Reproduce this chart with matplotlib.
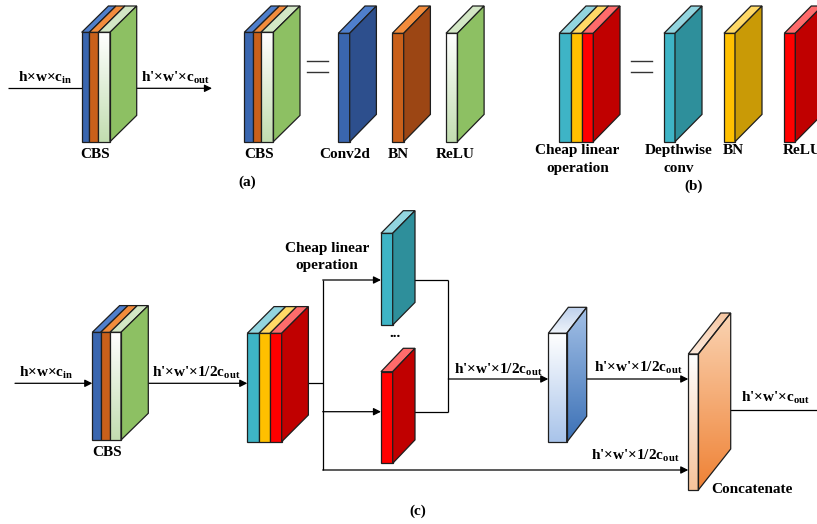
import numpy as np
import matplotlib
matplotlib.use("Agg")
from matplotlib import pyplot as plt
from matplotlib.patches import Polygon
from matplotlib.colors import to_rgb

plt.rcParams["font.family"] = ["Liberation Serif", "DejaVu Serif"]
plt.rcParams["font.weight"] = "bold"
plt.rcParams["mathtext.fontset"] = "custom"
plt.rcParams["mathtext.rm"] = "Liberation Serif:bold"
plt.rcParams["mathtext.it"] = "Liberation Serif:bold"
plt.rcParams["mathtext.bf"] = "Liberation Serif:bold"

FS = 11
EDGE = "#1e1e1e"
LW = 0.9

# layer -> (front, top, side); a tuple means a top-to-bottom gradient
LAYER_COLORS = {
    "conv": ("#3A66AF", "#4F7FCC", "#2D4F8D"),
    "bn": ("#C9601A", "#F28C3C", "#9C4614"),
    "relu": (("#FFFFFF", "#C2DDB0"), "#D3E7C5", "#8DC063"),
    "dw": ("#3EB4C6", "#92D5DF", "#2E8F9B"),
    "bn2": ("#FFC000", "#FFD966", "#C99A06"),
    "relu2": ("#FF0000", "#FF6B6B", "#C00000"),
    "ghost": (("#FFFFFF", "#A9C4EA"), ("#BDD0EC", "#EEF3FA"), ("#A3C0E6", "#3C71B6")),
    "concat": (("#FFFFFF", "#F7C39A"), ("#F6C6A2", "#FDE9DA"), ("#FAD3B2", "#EF8235")),
}

cbs_layers = ["conv", "bn", "relu"]
cheap_layers = ["dw", "bn2", "relu2"]
part_a_labels = ["CBS", "Conv2d", "BN", "ReLU"]
part_b_labels = [["Cheap linear", "operation"], ["Depthwise", "conv"], ["BN"], ["ReLU"]]
shape_in = r"h×w×$\mathrm{c}_{\mathrm{in}}$"
shape_out = r"h'×w'×$\mathrm{c}_{\mathrm{out}}$"
shape_half = r"h'×w'×1/2$\mathrm{c}_{\mathrm{out}}$"
captions = ["(a)", "(b)", "(c)"]


def fill(ax, pts, color, z):
    pts = np.asarray(pts, dtype=float)
    if isinstance(color, tuple):
        c0, c1 = np.array(to_rgb(color[0])), np.array(to_rgb(color[1]))
        t = np.linspace(0, 1, 64)[:, None, None]
        img = c0 + (c1 - c0) * t
        xs, ys = pts[:, 0], pts[:, 1]
        im = ax.imshow(img, extent=(xs.min(), xs.max(), ys.max(), ys.min()),
                       origin="upper", aspect="auto", zorder=z, interpolation="bilinear")
        im.set_clip_path(Polygon(pts, closed=True, transform=ax.transData))
        ax.add_patch(Polygon(pts, closed=True, facecolor="none", edgecolor=EDGE, lw=LW, zorder=z + 0.1))
    else:
        ax.add_patch(Polygon(pts, closed=True, facecolor=color, edgecolor=EDGE, lw=LW, zorder=z))


def slab(ax, x, top, widths, h, dx, dy, layers, z=3):
    xi = x
    for w, name in zip(widths, layers):
        front, topc, _ = LAYER_COLORS[name]
        fill(ax, [(xi, top), (xi + w, top), (xi + w, top + h), (xi, top + h)], front, z)
        fill(ax, [(xi, top), (xi + w, top), (xi + w + dx, top - dy), (xi + dx, top - dy)], topc, z)
        xi += w
    side = LAYER_COLORS[layers[-1]][2]
    fill(ax, [(xi, top), (xi + dx, top - dy), (xi + dx, top - dy + h), (xi, top + h)], side, z)


def line(ax, x0, y0, x1, y1, head=False):
    if head:
        ax.annotate("", xy=(x1, y1), xytext=(x0, y0), zorder=2,
                    arrowprops=dict(arrowstyle="-|>", color="black", lw=LW,
                                    mutation_scale=11, shrinkA=0, shrinkB=0))
    else:
        ax.plot([x0, x1], [y0, y1], color="black", lw=LW, zorder=2, solid_capstyle="butt")


def label(ax, x, y, s):
    ax.text(x, y, s, ha="center", va="baseline", fontsize=FS, fontweight="bold", zorder=6)


def equals(ax, x0, x1):
    for y in (61, 71.7):
        ax.plot([x0, x1], [y, y], color="#333333", lw=1.0, zorder=2)


fig = plt.figure(figsize=(8.17, 5.24), dpi=100)
ax = fig.add_axes([0, 0, 1, 1])
ax.set_axis_off()

# ---------------- (a) ----------------
line(ax, 8, 88.3, 90, 88.3)
line(ax, 125, 88.3, 212, 88.3, head=True)
label(ax, 45, 81.7, shape_in)
label(ax, 175, 81.7, shape_out)
slab(ax, 81.7, 32.3, [7.6, 9.0, 11.7], 109.4, 26.7, 26.3, cbs_layers)
label(ax, 95, 158.3, part_a_labels[0])

slab(ax, 244.3, 32.3, [8.4, 8.3, 12.3], 109.4, 26.7, 26.3, cbs_layers)
equals(ax, 307.3, 328.3)
a_x = [338.3, 392.3, 446.0]
for xi, name in zip(a_x, cbs_layers):
    slab(ax, xi, 33.3, [11.4], 108.4, 26.7, 27.3, [name])
for xc, s in zip([259.3, 345, 398, 455], part_a_labels):
    label(ax, xc, 158.3, s)
label(ax, 246.7, 186, captions[0])

# ---------------- (b) ----------------
slab(ax, 559.3, 33.3, [11.4, 11.0, 11.6], 108.4, 26.7, 27.3, cheap_layers)
equals(ax, 631, 651.7)
b_x = [664.0, 724.0, 784.3]
for xi, name in zip(b_x, cheap_layers):
    slab(ax, xi, 33.3, [11.0], 108.4, 27.0, 27.3, [name])
# the last "ReLU" runs off the right edge, as in the source figure
for xc, lines in zip([577.3, 678.3, 733, 802], part_b_labels):
    for k, s in enumerate(lines):
        label(ax, xc, 154 + 17.7 * k, s)
label(ax, 693.3, 189.5, captions[1])

# ---------------- (c) ----------------
line(ax, 15, 383.3, 92.3, 383.3, head=True)
label(ax, 46.7, 376.7, shape_in)
slab(ax, 92.3, 332.3, [8.4, 9.3, 11.0], 107.7, 27.3, 26.7, cbs_layers)
label(ax, 106.7, 456, part_a_labels[0])

line(ax, 130, 383.3, 247.3, 383.3, head=True)
label(ax, 196.7, 376.7, shape_half)
slab(ax, 247.3, 333.3, [11.7, 11.0, 11.7], 108.4, 26.7, 26.7, cheap_layers)

line(ax, 295, 383.3, 322.7, 383.3)
line(ax, 322.7, 280, 322.7, 470)
line(ax, 322.7, 280, 381, 280, head=True)
line(ax, 322.7, 411.7, 381, 411.7, head=True)
label(ax, 327, 251.7, part_b_labels[0][0])
label(ax, 327, 268.8, part_b_labels[0][1])

slab(ax, 381, 233.3, [11.7], 91.7, 22.3, 22.6, ["dw"])
ax.text(395, 337, "...", ha="center", va="baseline", fontsize=FS, fontweight="bold")
slab(ax, 381, 371.7, [11.7], 91.6, 22.3, 23.4, ["relu2"])

line(ax, 405, 280, 448.3, 280)
line(ax, 448.3, 280, 448.3, 411.7)
line(ax, 405, 411.7, 448.3, 411.7)
line(ax, 448.3, 379, 548.3, 379, head=True)
label(ax, 498.3, 374, shape_half)

slab(ax, 548.3, 333.3, [18.4], 109.0, 20.0, 26.0, ["ghost"])
line(ax, 575, 379, 688.3, 379, head=True)
label(ax, 638.3, 371.7, shape_half)

line(ax, 322.7, 470, 688.3, 470, head=True)
label(ax, 635, 460, shape_half)

slab(ax, 688.3, 354, [10.0], 136.0, 32.4, 41.0, ["concat"])
line(ax, 715, 410, 817, 410)
label(ax, 775, 401.7, shape_out)
label(ax, 752.3, 493.3, "Concatenate")
label(ax, 417.3, 515, captions[2])

ax.set_xlim(0, 817)
ax.set_ylim(524, 0)
fig.savefig("out.png", dpi=100)
